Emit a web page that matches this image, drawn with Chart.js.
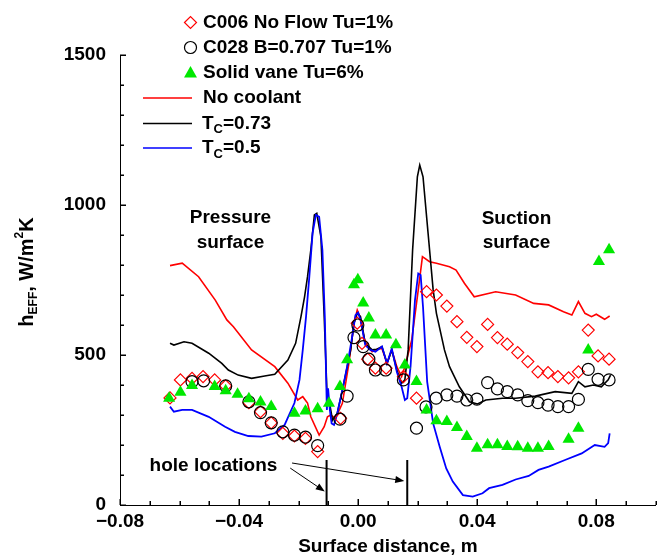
<!DOCTYPE html>
<html>
<head>
<meta charset="utf-8">
<script src="https://cdn.jsdelivr.net/npm/chart.js@4.4.1/dist/chart.umd.min.js"></script>
<style>
  body { margin: 0; background: #fff; }
  #wrap { width: 663px; height: 558px; }
</style>
</head>
<body>
<div id="wrap"><canvas id="grafico" width="663" height="558"></canvas></div>
<script>
var FONTE = "'Liberation Sans', Arial, sans-serif";

// eixo x: distancia na superficie (m), eixo y: h_EFF (W/m2K)
var xMajor = [-0.08, -0.04, 0, 0.04, 0.08];
var yMajor = [0, 500, 1000, 1500];
var xMinor = [-0.07, -0.06, -0.05, -0.03, -0.02, -0.01, 0.01, 0.02, 0.03, 0.05, 0.06, 0.07, 0.09, 0.10];
var yMinor = [100, 200, 300, 400, 600, 700, 800, 900, 1100, 1200, 1300, 1400];
var holeX = [-0.0106, 0.0165];
var holeTop = [150, 150];

// No coolant (linha vermelha)
var redX = [-0.0632, -0.0591, -0.0536, -0.048, -0.0441, -0.0419, -0.0358, -0.028, -0.0236, -0.0203,
  -0.0186, -0.017, -0.0159, -0.0131, -0.0114, -0.0103, -0.0092, -0.0076, -0.0053, -0.0031,
  -0.0014, -0.0003, 0.0006, 0.0024, 0.0047, 0.0063, 0.008, 0.0097, 0.0113, 0.013,
  0.0146, 0.0157, 0.018, 0.0202, 0.0216, 0.024, 0.0263, 0.0307, 0.0329, 0.0357,
  0.039, 0.0462, 0.0529, 0.059, 0.064, 0.069, 0.0718, 0.074, 0.0762, 0.0784,
  0.08, 0.0828, 0.0845];
var redY = [798, 806, 761, 683, 617, 594, 517, 461, 406, 350,
  361, 340, 294, 233, 261, 294, 300, 289, 339, 472,
  606, 650, 628, 539, 511, 519, 522, 472, 517, 461,
  428, 461, 550, 717, 828, 811, 806, 794, 783, 739,
  694, 711, 700, 672, 667, 644, 633, 678, 639, 628,
  636, 619, 630];

// Tc = 0.73 (linha preta)
var blackX = [-0.0632, -0.0619, -0.0585, -0.0558, -0.0502, -0.0458, -0.0436, -0.0403, -0.0358, -0.0314,
  -0.028, -0.0236, -0.021, -0.0192, -0.018, -0.017, -0.0159, -0.0147, -0.0139, -0.0125,
  -0.0114, -0.0105, -0.0098, -0.0086, -0.007, -0.0048, -0.0025, -0.0014, -0.0003, 0.0008,
  0.0024, 0.0047, 0.0063, 0.008, 0.0097, 0.0113, 0.013, 0.0146, 0.0157, 0.0168,
  0.0183, 0.0199, 0.0207, 0.0218, 0.0235, 0.0252, 0.0263, 0.029, 0.0307, 0.034,
  0.0374, 0.0401, 0.0429, 0.0485, 0.0529, 0.0595, 0.0662, 0.0718, 0.074, 0.0762,
  0.079, 0.0817, 0.084, 0.0848];
var blackY = [539, 533, 544, 539, 506, 472, 450, 433, 422, 430,
  436, 483, 539, 628, 694, 761, 850, 967, 972, 894,
  628, 383, 350, 283, 306, 406, 517, 606, 639, 628,
  539, 517, 519, 528, 472, 517, 450, 406, 417, 517,
  850, 1094, 1133, 1094, 906, 717, 639, 517, 461, 394,
  344, 337, 350, 356, 356, 363, 378, 372, 411, 394,
  400, 394, 417, 433];

// Tc = 0.5 (linha azul)
var blueX = [-0.0632, -0.0619, -0.0591, -0.0558, -0.0502, -0.0447, -0.0414, -0.0369, -0.0325, -0.028,
  -0.0247, -0.0214, -0.0197, -0.0186, -0.0175, -0.0164, -0.0153, -0.0142, -0.0131, -0.012,
  -0.0112, -0.0105, -0.0101, -0.0095, -0.0089, -0.0081, -0.007, -0.0053, -0.0037, -0.002,
  -0.0009, 0, 0.0008, 0.0024, 0.0041, 0.0058, 0.008, 0.0097, 0.0113, 0.013,
  0.0146, 0.0157, 0.0165, 0.0176, 0.0191, 0.0202, 0.021, 0.0218, 0.0232, 0.0252,
  0.0274, 0.0296, 0.0318, 0.0352, 0.0385, 0.0418, 0.044, 0.0485, 0.0529, 0.0573,
  0.0606, 0.064, 0.0695, 0.0751, 0.0795, 0.0828, 0.084, 0.0845];
var blueY = [328, 311, 317, 317, 294, 261, 244, 230, 228, 239,
  267, 340, 417, 517, 628, 761, 906, 967, 961, 850,
  628, 317, 389, 317, 272, 267, 306, 383, 461, 561,
  633, 641, 617, 533, 517, 511, 528, 472, 522, 444,
  394, 350, 356, 461, 683, 772, 767, 660, 410, 272,
  194, 122, 78, 33, 28, 39, 56, 67, 85, 97,
  117, 128, 150, 172, 200, 194, 206, 239];

// C006 No Flow Tu=1% (losangos)
var c006X = [-0.0632, -0.0597, -0.0558, -0.0521, -0.0482, -0.0445, -0.0367, -0.0328, -0.0292, -0.0253,
  -0.0214, -0.0177, -0.0136, -0.0059, -0.0003, 0.0013, 0.0032, 0.0058, 0.0094, 0.0152,
  0.0196, 0.023, 0.0263, 0.0298, 0.0332, 0.0365, 0.0399, 0.0435, 0.0468, 0.0501,
  0.0536, 0.057, 0.0604, 0.0638, 0.0671, 0.0707, 0.074, 0.0773, 0.0806, 0.0843];
var c006Y = [357, 417, 422, 428, 417, 397, 341, 311, 274, 239,
  230, 222, 178, 289, 606, 539, 486, 456, 456, 428,
  356, 711, 700, 663, 611, 559, 528, 602, 558, 536,
  508, 478, 444, 441, 428, 424, 444, 583, 497, 486];

// C028 B=0.707 Tu=1% (circulos)
var c028X = [-0.0558, -0.0519, -0.0445, -0.0367, -0.0328, -0.0292, -0.0253, -0.0214, -0.0177, -0.0136,
  -0.0061, -0.0037, -0.0014, -0.0001, 0.0017, 0.0036, 0.0058, 0.0092, 0.0152, 0.0196,
  0.0228, 0.0262, 0.0298, 0.0332, 0.0365, 0.0399, 0.0435, 0.0468, 0.0501, 0.0536,
  0.057, 0.0604, 0.0638, 0.0671, 0.0707, 0.074, 0.0773, 0.0806, 0.0843];
var c028Y = [411, 414, 397, 344, 308, 274, 244, 233, 226, 198,
  286, 363, 558, 600, 528, 486, 450, 450, 417, 256,
  327, 356, 367, 363, 350, 353, 408, 387, 378, 367,
  348, 341, 333, 328, 328, 352, 452, 419, 417];

// Solid vane Tu=6% (triangulos)
var vaneX = [-0.0635, -0.0597, -0.0558, -0.0482, -0.0445, -0.0405, -0.0367, -0.0328, -0.0292, -0.0214,
  -0.0177, -0.0136, -0.0098, -0.0061, -0.0037, -0.0014, -0.0001, 0.0017, 0.0036, 0.0058,
  0.0094, 0.0127, 0.0157, 0.0196, 0.023, 0.0263, 0.0298, 0.0332, 0.0365, 0.0399,
  0.0435, 0.0468, 0.0501, 0.0536, 0.057, 0.0604, 0.064, 0.0707, 0.074, 0.0773,
  0.0809, 0.0843];
var vaneY = [356, 376, 398, 395, 381, 369, 354, 343, 328, 306,
  313, 321, 339, 395, 484, 734, 751, 673, 623, 567,
  567, 534, 467, 412, 317, 281, 278, 258, 228, 189,
  201, 201, 195, 194, 189, 189, 195, 219, 256, 517,
  812, 851];

function pares(xs, ys) {
    return xs.map(function(v, i) { return {x: v, y: ys[i]}; });
}

var VERMELHO = 'rgb(255,0,0)';
var AZUL = 'rgb(0,0,255)';
var VERDE = 'rgb(0,232,0)';

var datasets = [
    { label: 'Solid vane Tu=6%', data: pares(vaneX, vaneY), pointStyle: 'triangle', pointRadius: 7,
      backgroundColor: VERDE, borderColor: VERDE, borderWidth: 0, showLine: false, order: 0 },
    { label: 'C028 B=0.707 Tu=1%', data: pares(c028X, c028Y), pointStyle: 'circle', pointRadius: 6,
      backgroundColor: 'rgba(0,0,0,0)', borderColor: '#000', borderWidth: 1.2, showLine: false, order: 1 },
    { label: 'C006 No Flow Tu=1%', data: pares(c006X, c006Y), pointStyle: 'rectRot', pointRadius: 6,
      backgroundColor: 'rgba(0,0,0,0)', borderColor: VERMELHO, borderWidth: 1.2, showLine: false, order: 2 },
    { label: 'Tc=0.5', data: pares(blueX, blueY), showLine: true, pointRadius: 0, borderColor: AZUL,
      borderWidth: 1.8, order: 3 },
    { label: 'Tc=0.73', data: pares(blackX, blackY), showLine: true, pointRadius: 0, borderColor: '#000',
      borderWidth: 1.6, order: 4 },
    { label: 'No coolant', data: pares(redX, redY), showLine: true, pointRadius: 0, borderColor: VERMELHO,
      borderWidth: 1.6, order: 5 }
];
holeX.forEach(function(hx, i) {
    datasets.push({ label: 'hole' + i, data: [{x: hx, y: 0}, {x: hx, y: holeTop[i]}], showLine: true,
        pointRadius: 0, borderColor: '#000', borderWidth: 2, order: 6 });
});

function ehMajor(v, lista) {
    return lista.some(function(m) { return Math.abs(m - v) < 1e-6; });
}

// marcas de escala para dentro
function desenharMarcas(chart) {
    var c = chart.ctx;
    var sx = chart.scales.x, sy = chart.scales.y;
    var base = Math.round(sy.getPixelForValue(0));
    var esq = Math.round(sx.getPixelForValue(-0.08));
    c.save();
    c.fillStyle = '#000';
    xMajor.concat(xMinor).forEach(function(v) {
        var px = Math.round(sx.getPixelForValue(v));
        var len = ehMajor(v, xMajor) ? 6 : 4;
        c.fillRect(px - 0.5, base - len, 1.5, len);
    });
    yMajor.concat(yMinor).forEach(function(w) {
        var py = Math.round(sy.getPixelForValue(w));
        var len = ehMajor(w, yMajor) ? 6 : 4;
        c.fillRect(esq, py - 0.5, len, 1.5);
    });
    c.restore();
}

function textoPartes(c, partes, x, y) {
    partes.forEach(function(p) {
        c.font = 'bold ' + p.f + 'px ' + FONTE;
        c.fillText(p.t, x, y + (p.dy || 0));
        x += c.measureText(p.t).width;
    });
}
function larguraPartes(c, partes) {
    var w = 0;
    partes.forEach(function(p) {
        c.font = 'bold ' + p.f + 'px ' + FONTE;
        w += c.measureText(p.t).width;
    });
    return w;
}

function seta(c, x1, y1, x2, y2) {
    var a = Math.atan2(y2 - y1, x2 - x1);
    c.beginPath();
    c.moveTo(x1, y1);
    c.lineTo(x2 - 7 * Math.cos(a), y2 - 7 * Math.sin(a));
    c.stroke();
    c.beginPath();
    c.moveTo(x2, y2);
    c.lineTo(x2 - 9 * Math.cos(a) + 3.5 * Math.sin(a), y2 - 9 * Math.sin(a) - 3.5 * Math.cos(a));
    c.lineTo(x2 - 9 * Math.cos(a) - 3.5 * Math.sin(a), y2 - 9 * Math.sin(a) + 3.5 * Math.cos(a));
    c.closePath();
    c.fill();
}

var anotacoes = [
    {t: 'Pressure', x: -0.0429, y: 957},
    {t: 'surface', x: -0.0429, y: 873},
    {t: 'Suction', x: 0.0532, y: 953},
    {t: 'surface', x: 0.0532, y: 873},
    {t: 'hole locations', x: -0.0486, y: 130}
];
var setas = [
    {x1: -0.0228, y1: 123, x2: -0.0112, y2: 45},
    {x1: -0.0222, y1: 140, x2: 0.0155, y2: 80}
];

var extras = {
    id: 'extras',
    afterDraw: function(chart) {
        desenharMarcas(chart);
        var c = chart.ctx;
        var sx = chart.scales.x, sy = chart.scales.y;
        c.save();
        c.fillStyle = '#000';
        c.strokeStyle = '#000';
        c.textAlign = 'center';
        c.textBaseline = 'middle';
        c.font = 'bold 19px ' + FONTE;
        anotacoes.forEach(function(a) {
            c.fillText(a.t, sx.getPixelForValue(a.x), sy.getPixelForValue(a.y));
        });
        c.lineWidth = 1;
        setas.forEach(function(s) {
            seta(c, sx.getPixelForValue(s.x1), sy.getPixelForValue(s.y1),
                sx.getPixelForValue(s.x2), sy.getPixelForValue(s.y2));
        });

        // titulo do eixo y com subscrito e sobrescrito
        var partesY = [{t: 'h', f: 20}, {t: 'EFF', f: 12, dy: 4}, {t: ', W/m', f: 20},
            {t: '2', f: 12, dy: -10}, {t: 'K', f: 20}];
        c.save();
        c.translate(33, 272);
        c.rotate(-Math.PI / 2);
        c.textAlign = 'left';
        c.textBaseline = 'alphabetic';
        textoPartes(c, partesY, -larguraPartes(c, partesY) / 2, 0);
        c.restore();

        // legenda
        var x0 = 203, mx = 190.5;
        var linhas = [22.5, 47.5, 72.5, 98, 123.5, 148];
        c.textAlign = 'left';
        c.textBaseline = 'middle';
        c.lineWidth = 1.2;
        c.strokeStyle = VERMELHO;
        c.beginPath();
        c.moveTo(mx - 6, linhas[0]); c.lineTo(mx, linhas[0] - 6);
        c.lineTo(mx + 6, linhas[0]); c.lineTo(mx, linhas[0] + 6);
        c.closePath(); c.stroke();
        c.strokeStyle = '#000';
        c.beginPath();
        c.arc(mx, linhas[1], 6, 0, Math.PI * 2);
        c.stroke();
        c.fillStyle = VERDE;
        c.beginPath();
        c.moveTo(mx, linhas[2] - 6.5);
        c.lineTo(mx + 6.5, linhas[2] + 5);
        c.lineTo(mx - 6.5, linhas[2] + 5);
        c.closePath(); c.fill();
        [VERMELHO, '#000', AZUL].forEach(function(cor, i) {
            c.strokeStyle = cor;
            c.lineWidth = 1.6;
            c.beginPath();
            c.moveTo(143, linhas[3 + i]);
            c.lineTo(192, linhas[3 + i]);
            c.stroke();
        });
        c.fillStyle = '#000';
        c.font = 'bold 19px ' + FONTE;
        c.fillText('C006 No Flow Tu=1%', x0, linhas[0]);
        c.fillText('C028 B=0.707 Tu=1%', x0, linhas[1]);
        c.fillText('Solid vane Tu=6%', x0, linhas[2]);
        c.fillText('No coolant', x0, linhas[3]);
        textoPartes(c, [{t: 'T', f: 19}, {t: 'C', f: 13, dy: 6}, {t: '=0.73', f: 19}], x0 - 1, linhas[4]);
        textoPartes(c, [{t: 'T', f: 19}, {t: 'C', f: 13, dy: 6}, {t: '=0.5', f: 19}], x0 - 1, linhas[5]);
        c.restore();
    }
};

var ctx = document.getElementById('grafico').getContext('2d');

var myChart = new Chart(ctx, {
    type: 'scatter',
    data: { datasets: datasets },
    options: {
        responsive: false,
        devicePixelRatio: 1,
        animation: false,
        layout: { padding: { top: 55, right: 2, left: 0, bottom: 0 } },
        plugins: { legend: { display: false }, tooltip: { enabled: false } },
        elements: { line: { tension: 0 } },
        scales: {
            x: {
                type: 'linear', min: -0.08, max: 0.10,
                afterFit: function(s) { s.height = 53; },
                border: { display: true, color: '#000', width: 1 },
                grid: { display: false, drawTicks: false },
                ticks: {
                    stepSize: 0.01, autoSkip: false, maxRotation: 0, padding: 5, color: '#000',
                    font: { family: FONTE, size: 19, weight: 'bold' },
                    callback: function(v) {
                        if (!ehMajor(v, xMajor)) return '';
                        var s = Math.abs(v).toFixed(2);
                        return v < -1e-9 ? '\u2212' + s : s;
                    }
                },
                title: {
                    display: true, text: 'Surface distance, m', color: '#000',
                    font: { family: FONTE, size: 19, weight: 'bold' }, padding: { top: 0, bottom: 0 }
                }
            },
            y: {
                type: 'linear', min: 0, max: 1500,
                afterFit: function(s) { s.width = 120; },
                border: { display: true, color: '#000', width: 1 },
                grid: { display: false, drawTicks: false },
                ticks: {
                    stepSize: 100, autoSkip: false, padding: 14, color: '#000',
                    font: { family: FONTE, size: 19, weight: 'bold' },
                    callback: function(v) { return ehMajor(v, yMajor) ? String(v) : ''; }
                }
            }
        }
    },
    plugins: [extras]
});
</script>
</body>
</html>
